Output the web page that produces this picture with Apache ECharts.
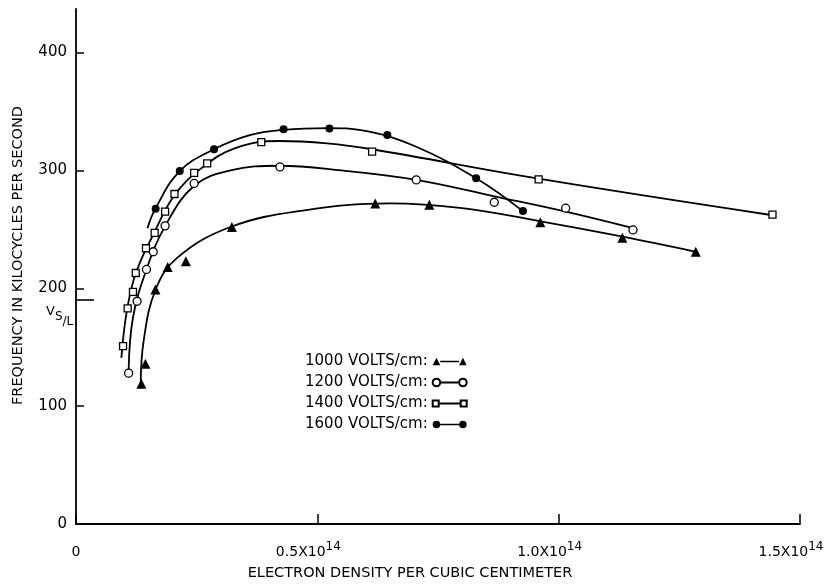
<!DOCTYPE html>
<html><head><meta charset="utf-8">
<script src="https://cdn.jsdelivr.net/npm/echarts@6/dist/echarts.min.js"></script>
<style>html,body{margin:0;padding:0;background:#fff}#c{width:837px;height:586px}</style>
</head><body><div id="c"></div>
<script>
// x in units of 1e14 electrons/cm^3, y in kilocycles per second
const seriesNames = ['1000 VOLTS/cm:', '1200 VOLTS/cm:', '1400 VOLTS/cm:', '1600 VOLTS/cm:'];
const pts1000 = [[0.1355,119],[0.1438,136],[0.1646,199],[0.190,218],[0.2276,223],[0.323,252],[0.62,272],[0.732,271],[0.962,256],[1.132,243],[1.284,231]];
const pts1200 = [[0.109,128],[0.1266,189],[0.146,216],[0.160,231],[0.1846,253],[0.2448,289],[0.4226,303],[0.705,292],[0.8666,273],[1.0145,268],[1.154,249.5]];
const pts1400 = [[0.0975,151],[0.107,183],[0.118,197],[0.1238,213],[0.145,234],[0.163,247],[0.1846,265],[0.204,280],[0.2448,298],[0.2718,306],[0.3838,324],[0.6135,316],[0.9585,292.5],[1.443,262.5]];
const pts1600 = [[0.165,267.5],[0.215,299.5],[0.286,318],[0.43,335],[0.525,335.5],[0.645,330],[0.829,293.4],[0.926,265.5]];
// fitted curves as drawn in the figure
const curve1000 = [[0.134,116],[0.14,155],[0.165,199],[0.21,226],[0.32,252],[0.47,266],[0.65,272],[0.8,268],[0.96,257],[1.13,244],[1.284,231]];
const curve1200 = [[0.109,130],[0.118,175],[0.146,216],[0.185,253],[0.245,287],[0.32,300],[0.42,304],[0.55,300],[0.705,292],[0.867,278],[1.0145,265],[1.154,251]];
const curve1400 = [[0.094,141],[0.105,180],[0.124,213],[0.163,248],[0.204,279],[0.26,302],[0.33,319],[0.42,325],[0.52,323],[0.6135,318],[0.9585,293],[1.443,262]];
const curve1600 = [[0.148,251],[0.165,268],[0.215,299.5],[0.286,318],[0.36,330],[0.43,334.5],[0.52,336],[0.6,333.5],[0.7,321],[0.829,293.4],[0.926,265.5]];
const xTicks = [0, 0.5, 1.0, 1.5];
const yTickLabels = [0, 100, 200, 300, 400];
const yTickMarks = [100, 200, 300, 400];
const vsLValue = 190;
const vsLEnd = 0.037;

const triPath = 'path://M0,8 L4,0 L8,8 Z M8,3.2 L28,3.2 L28,4.8 L8,4.8 Z M28,8 L32,0 L36,8 Z';
const dotPath = 'path://M0,4 A4,4 0 1,0 8,4 A4,4 0 1,0 0,4 Z M8,3.2 L28,3.2 L28,4.8 L8,4.8 Z M28,4 A4,4 0 1,0 36,4 A4,4 0 1,0 28,4 Z';
const circPath = 'path://M0,4 A4,4 0 1,0 8,4 A4,4 0 1,0 0,4 Z M8,3.95 L28,3.95 L28,4.05 L8,4.05 Z M28,4 A4,4 0 1,0 36,4 A4,4 0 1,0 28,4 Z';
const sqPath = 'path://M1,1 L7,1 L7,7 L1,7 Z M7,3.95 L29,3.95 L29,4.05 L7,4.05 Z M29,1 L35,1 L35,7 L29,7 Z';

const black = '#000';
function curveSeries(data, name) {
  return { type: 'line', name: name, data: data, smooth: 0.4, showSymbol: false, symbol: 'none',
    lineStyle: { color: black, width: 1.8 }, silent: true, z: 2 };
}
const chart = echarts.init(document.getElementById('c'), null, { renderer: 'canvas' });
chart.setOption({
  animation: false,
  backgroundColor: '#fff',
  textStyle: { fontFamily: 'DejaVu Sans', color: black },
  grid: { left: 76, right: 37, top: 9, bottom: 54 },
  xAxis: {
    type: 'value', min: 0, max: 1.5, interval: 0.5,
    axisLine: { lineStyle: { color: black, width: 1.8 } },
    axisTick: { inside: true, length: 10, lineStyle: { color: black, width: 1.5 } },
    splitLine: { show: false },
    axisLabel: {
      margin: 11, color: black, fontSize: 14,
      formatter: v => v === 0 ? '{b|0}' : '{b|' + v.toFixed(1) + 'X10}{s|14}',
      rich: {
        b: { fontSize: 14, fontFamily: 'DejaVu Sans', color: black, padding: [10, 0, 0, 0] },
        s: { fontSize: 12, fontFamily: 'DejaVu Sans', color: black, padding: [0, 18, 0, 0] }
      }
    },
    name: 'ELECTRON DENSITY PER CUBIC CENTIMETER',
    nameLocation: 'middle', nameGap: 42,
    nameTextStyle: { fontSize: 14.5, color: black, padding: [0, 56, 0, 0] }
  },
  yAxis: {
    type: 'value', min: 0, max: 437,
    axisLine: { show: true, lineStyle: { color: black, width: 1.8 } },
    axisTick: { show: true, inside: true, length: 8, customValues: yTickMarks, lineStyle: { color: black, width: 1.5 } },
    splitLine: { show: false },
    axisLabel: { margin: 9, fontSize: 15, color: black, customValues: yTickLabels },
    name: 'FREQUENCY IN KILOCYCLES PER SECOND',
    nameLocation: 'middle', nameGap: 50, nameRotate: 90,
    nameTextStyle: { fontSize: 14.5, color: black, padding: [0, 0, 0, 22] }
  },
  legend: {
    orient: 'vertical', left: 300, top: 349, itemGap: 6, align: 'right',
    itemWidth: 34, itemHeight: 8, selectedMode: false,
    textStyle: { fontSize: 15, color: black, fontFamily: 'DejaVu Sans' },
    data: [
      { name: seriesNames[0], icon: triPath },
      { name: seriesNames[1], icon: circPath },
      { name: seriesNames[2], icon: sqPath },
      { name: seriesNames[3], icon: dotPath }
    ]
  },
  graphic: [{
    type: 'text', left: 46, top: 305, silent: true,
    style: {
      text: '{v|V}{s|S}{l|/L}',
      rich: {
        v: { fontSize: 13, fontFamily: 'DejaVu Sans', fill: black, padding: [0, 0, 10, 0] },
        s: { fontSize: 12, fontFamily: 'DejaVu Sans', fill: black },
        l: { fontSize: 12, fontFamily: 'DejaVu Sans', fill: black, padding: [10, 0, 0, 0] }
      }
    }
  }],
  series: [
    curveSeries(curve1000, 'c1000'),
    curveSeries(curve1200, 'c1200'),
    curveSeries(curve1400, 'c1400'),
    curveSeries(curve1600, 'c1600'),
    { type: 'scatter', name: seriesNames[0], data: pts1000, symbol: 'triangle', symbolSize: 10,
      itemStyle: { color: black, opacity: 1 }, z: 5 },
    { type: 'scatter', name: seriesNames[1], data: pts1200, symbol: 'circle', symbolSize: 8,
      itemStyle: { color: '#fff', borderColor: black, borderWidth: 1.3, opacity: 1 }, z: 5 },
    { type: 'scatter', name: seriesNames[2], data: pts1400, symbol: 'rect', symbolSize: 7,
      itemStyle: { color: '#fff', borderColor: black, borderWidth: 1.3, opacity: 1 }, z: 5 },
    { type: 'scatter', name: seriesNames[3], data: pts1600, symbol: 'circle', symbolSize: 8,
      itemStyle: { color: black, opacity: 1 }, z: 5,
      markLine: { silent: true, symbol: 'none', label: { show: false },
        lineStyle: { color: black, width: 1.6, type: 'solid' },
        data: [[{ coord: [0, vsLValue] }, { coord: [vsLEnd, vsLValue] }]] } }
  ]
});
</script></body></html>
